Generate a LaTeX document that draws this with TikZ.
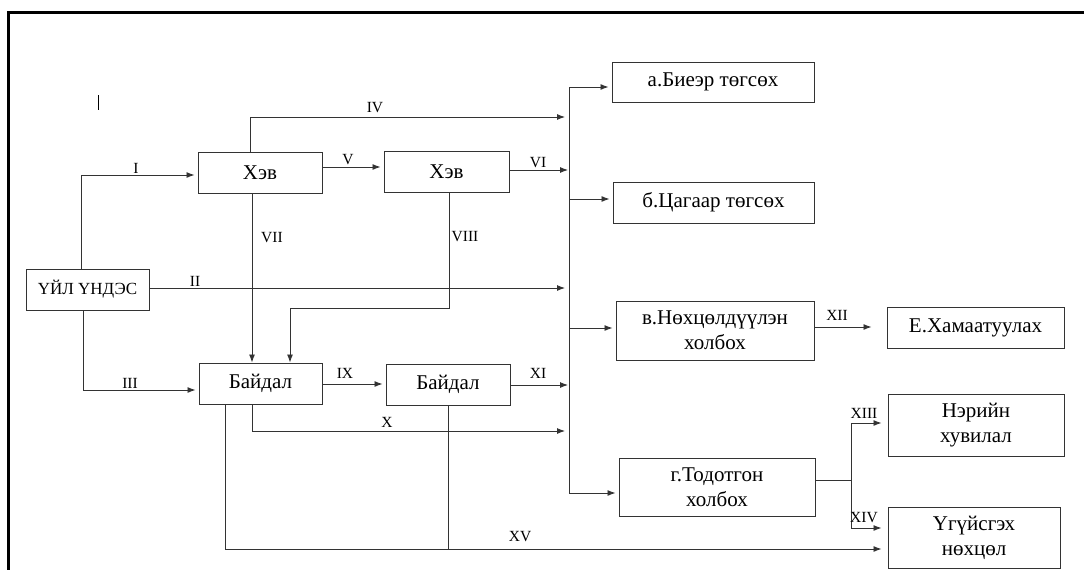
\documentclass[tikz,border=0pt]{standalone}
\usepackage{fontspec}
\setmainfont{Liberation Serif}
\usetikzlibrary{arrows.meta}
\newcommand{\boxfont}{\fontsize{21}{25}\selectfont}
\newcommand{\capsfont}{\fontsize{17}{20}\selectfont}
\newcommand{\labfont}{\fontsize{15.5}{17}\selectfont}
\tikzset{
  blk/.style={draw=black!80, line width=1pt, inner sep=0pt, align=center, font=\boxfont},
  wire/.style={draw=black!80, line width=0.9pt},
  arr/.style={wire, -{Latex[length=8pt,width=6pt]}, shorten >=3pt},
  lab/.style={font=\labfont, inner sep=0pt}
}
\begin{document}
\begin{tikzpicture}[x=1pt,y=-1pt]
\useasboundingbox (0,0) rectangle (1084,570);
% partial frame
\draw[line width=3pt] (8,570) -- (8,12) -- (1085,12);
% small stray mark
\draw[line width=1pt] (98,95) -- (98,110);

% boxes
\node[blk, font=\capsfont, minimum width=123pt, minimum height=41pt] (root) at (87.5,289.5) {ҮЙЛ ҮНДЭС};
\node[blk, minimum width=124pt, minimum height=41pt] (hev1) at (260,172.5) {Хэв};
\node[blk, minimum width=125pt, minimum height=41pt] (hev2) at (446.5,171.5) {Хэв};
\node[blk, minimum width=123pt, minimum height=41pt] (bay1) at (260.5,383.5) {Байдал};
\node[blk, minimum width=124pt, minimum height=41pt] (bay2) at (448,384.5) {Байдал};
\node[blk, minimum width=202pt, minimum height=40pt] (a) at (713,82) {а.Биеэр төгсөх};
\node[blk, minimum width=201pt, minimum height=41pt] (b) at (713.5,202.5) {б.Цагаар төгсөх};
\node[blk, minimum width=198pt, minimum height=59pt] (v) at (715,330.5) {в.Нөхцөлдүүлэн\\холбох};
\node[blk, minimum width=196pt, minimum height=58pt] (g) at (717,487) {г.Тодотгон\\холбох};
\node[blk, minimum width=177pt, minimum height=41pt] (e) at (975.5,327.5) {Е.Хамаатуулах};
\node[blk, minimum width=176pt, minimum height=62pt] (ner) at (976,425) {Нэрийн\\хувилал};
\node[blk, minimum width=172pt, minimum height=61pt] (ugu) at (974,537.5) {Үгүйсгэх\\нөхцөл};

% collecting bus
\coordinate (bustop) at (569,87);
\coordinate (busbot) at (569,493);
\draw[wire] (bustop) -- (busbot);
\draw[arr] (bustop) -- (bustop -| a.west);
\coordinate (bb) at (569,199);
\draw[arr] (bb) -- (bb -| b.west);
\coordinate (bv) at (569,328);
\draw[arr] (bv) -- (bv -| v.west);
\draw[arr] (busbot) -- (busbot -| g.west);

% I
\coordinate (c1) at (81,175);
\draw[arr] (root.north -| c1) -- (c1) -- (c1 -| hev1.west);
\node[lab] (l1) at (136,168) {I};
% II
\coordinate (c2) at (0,288);
\draw[arr, shorten >=4pt] (root.east |- c2) -- (bustop |- c2);
\node[lab] (l2) at (195,281) {II};
% III
\coordinate (c3) at (83,390);
\draw[arr] (root.south -| c3) -- (c3) -- (c3 -| bay1.west);
\node[lab] (l3) at (130,383) {III};
% IV
\coordinate (c4) at (250,117);
\draw[arr, shorten >=4pt] (hev1.north -| c4) -- (c4) -- (bustop |- c4);
\node[lab] (l4) at (375,108) {IV};
% V
\coordinate (c5) at (0,167);
\draw[arr] (hev1.east |- c5) -- (hev2.west |- c5);
\node[lab] (l5) at (348,160) {V};
% VI
\coordinate (c6) at (0,170);
\draw[arr, shorten >=1pt] (hev2.east |- c6) -- (bustop |- c6);
\node[lab] (l6) at (538,163) {VI};
% VII
\coordinate (c7) at (252,0);
\draw[arr, shorten >=0pt] (hev1.south -| c7) -- (bay1.north -| c7);
\node[lab] (l7) at (272,238) {VII};
% VIII
\coordinate (c8a) at (449,308);
\coordinate (c8b) at (290,308);
\draw[arr, shorten >=0pt] (hev2.south -| c8a) -- (c8a) -- (c8b) -- (bay1.north -| c8b);
\node[lab] (l8) at (465,237) {VIII};
% IX
\coordinate (c9) at (0,384);
\draw[arr] (bay1.east |- c9) -- (bay2.west |- c9);
\node[lab] (l9) at (345,373) {IX};
% X
\coordinate (c10) at (252,431);
\draw[arr, shorten >=4pt] (bay1.south -| c10) -- (c10) -- (bustop |- c10);
\node[lab] (l10) at (387,422) {X};
% XI
\coordinate (c11) at (0,385);
\draw[arr, shorten >=1pt] (bay2.east |- c11) -- (bustop |- c11);
\node[lab] (l11) at (538,373) {XI};
% XII
\coordinate (c12) at (0,327);
\draw[arr, shorten >=15pt] (v.east |- c12) -- (e.west |- c12);
\node[lab] (l12) at (837,315) {XII};
% XIII / XIV branch
\coordinate (fork) at (851,480);
\coordinate (c13) at (851,423);
\coordinate (c14) at (851,528);
\draw[wire] (g.east |- fork) -- (fork);
\draw[wire] (c13) -- (c14);
\draw[arr, shorten >=6pt] (c13) -- (c13 -| ner.west);
\draw[arr, shorten >=6pt] (c14) -- (c14 -| ugu.west);
\node[lab] (l13) at (864,413) {XIII};
\node[lab] (l14) at (864,518) {XIV};
% XV
\coordinate (c15) at (225,549);
\coordinate (c15b) at (448,549);
\draw[arr, shorten >=6pt] (bay1.south -| c15) -- (c15) -- (c15 -| ugu.west);
\draw[wire] (bay2.south -| c15b) -- (c15b);
\node[lab] (l15) at (520,537) {XV};
\end{tikzpicture}
\end{document}
